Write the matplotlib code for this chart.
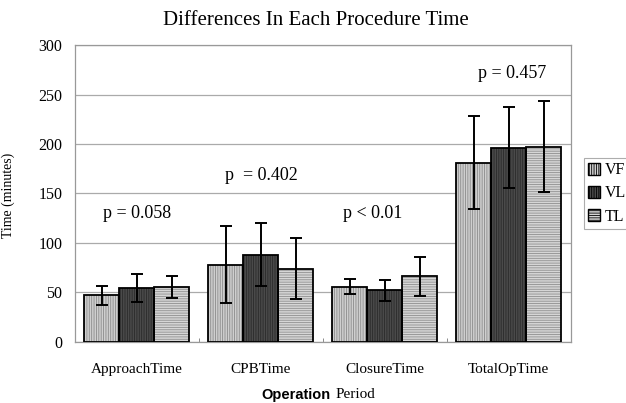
import numpy as np
import matplotlib
matplotlib.use("Agg")
import matplotlib.pyplot as plt

plt.rcParams['font.family'] = ['Liberation Serif', 'DejaVu Serif']
plt.rcParams['hatch.linewidth'] = 0.6

categories = ["ApproachTime", "CPBTime", "ClosureTime", "TotalOpTime"]
groups = ["VF", "VL", "TL"]

# mean and +/- error
vf_mean = [47, 78, 55.5, 181]
vf_err = [9.5, 39, 7.5, 47]
vl_mean = [54.5, 88, 52, 196]
vl_err = [14, 32, 10.5, 41]
tl_mean = [55.5, 74, 66, 197]
tl_err = [11.5, 31, 20, 46]

p_labels = ["p = 0.058", "p  = 0.402", "p < 0.01", "p = 0.457"]
p_x = [0.0, 1.0, 1.9, 3.03]
p_y = [130, 168, 130, 271]

means = [vf_mean, vl_mean, tl_mean]
errs = [vf_err, vl_err, tl_err]
faces = ['#cfcfcf', '#4a4a4a', '#d6d6d6']
hatch_cols = ['#8a8a8a', '#2a2a2a', '#8f8f8f']
hatches = ['|||||||', '|||||||', '-------']

fig = plt.figure(figsize=(6.26, 4.03), dpi=100)
ax = fig.add_axes([0.1198, 0.152, 0.792, 0.736])

x = np.arange(len(categories))
w = 35 / 124

for i in range(3):
    pos = x + (i - 1) * w
    # hatched fill first, then outline on top so hatch lines stay gray
    ax.bar(pos, means[i], w, color=faces[i], edgecolor=hatch_cols[i],
           hatch=hatches[i], linewidth=0, zorder=2)
    ax.bar(pos, means[i], w, facecolor='none', edgecolor='black',
           linewidth=1.3, zorder=3)
    ax.errorbar(pos, means[i], yerr=errs[i], fmt='none', ecolor='black',
                elinewidth=1.4, capsize=4, capthick=1.4, zorder=4)

# legend proxies
handles = []
for i in range(3):
    h = plt.Rectangle((0, 0), 1, 1, facecolor=faces[i], edgecolor='black',
                      hatch=hatches[i], linewidth=1)
    handles.append(h)
leg = ax.legend(handles, groups, loc='center left', bbox_to_anchor=(1.026, 0.5),
                fontsize=11.5, frameon=True, fancybox=False, handlelength=0.8,
                handleheight=0.8, handletextpad=0.25, borderpad=0.25,
                borderaxespad=0, labelspacing=0.45)
leg.get_frame().set_edgecolor('#999999')
leg.get_frame().set_linewidth(0.8)

for lab, px, py in zip(p_labels, p_x, p_y):
    ax.text(px, py, lab, ha='center', va='center', fontsize=13)

ax.set_ylim(0, 300)
ax.set_xlim(-0.5, 3.5)
ax.set_yticks(np.arange(0, 301, 50))
ax.yaxis.grid(True, color='#aaaaaa', linewidth=0.9)
ax.set_axisbelow(True)
ax.tick_params(axis='y', length=0, labelsize=11.5, pad=9)
ax.set_xticks(x)
ax.set_xticklabels(categories)
ax.tick_params(axis='x', length=0, labelsize=11, pad=15)
# small boundary ticks between categories
ax.set_xticks([0.5, 1.5, 2.5], minor=True)
ax.tick_params(axis='x', which='minor', length=3, direction='in', color='#777777')
for s in ax.spines.values():
    s.set_color('#999999')
    s.set_linewidth(0.9)

ax.set_ylabel("Time (minutes)", fontsize=10)
ax.yaxis.set_label_coords(-0.121, 0.494)
fig.text(330 / 626, 0.02, "Operation", fontsize=10.5, fontweight='bold',
         family=['Liberation Sans', 'DejaVu Sans'], ha='right', va='center')
fig.text(336 / 626, 0.02, "Period", fontsize=11, ha='left', va='center')
fig.text(0.505, 0.95, "Differences In Each Procedure Time", fontsize=15,
         ha='center', va='center')

fig.savefig("out.png", dpi=100)
